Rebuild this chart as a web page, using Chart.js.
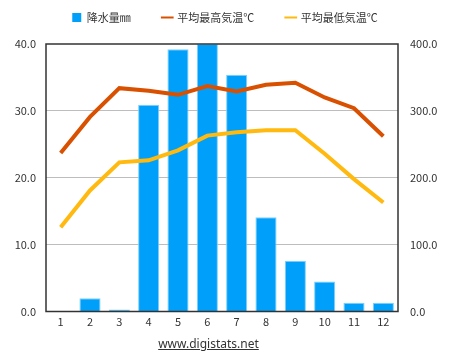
<!DOCTYPE html>
<html>
<head>
<meta charset="utf-8">
<script src="https://cdn.jsdelivr.net/npm/chart.js@4.4.1/dist/chart.umd.min.js"></script>
<style>
    html, body { margin: 0; padding: 0; background: #fff; }
    #wrap { position: relative; width: 450px; height: 363px; }
    #link {
        position: absolute; left: 0; width: 417px; top: 335px;
        text-align: center; font: 12px 'Noto Sans', sans-serif; color: #333;
        text-decoration: underline;
    }
</style>
</head>
<body>
<div id="wrap">
    <canvas id="chart" width="450" height="363"></canvas>
    <div id="link">www.digistats.net</div>
</div>
<script>
// data
const months = ['1', '2', '3', '4', '5', '6', '7', '8', '9', '10', '11', '12'];
const precipitation = [0, 20, 3, 309, 392, 400, 354, 141, 76, 45, 13, 13];
const maxTemp = [23.7, 29.1, 33.4, 33.0, 32.4, 33.7, 32.9, 33.9, 34.2, 32.0, 30.4, 26.2];
const minTemp = [12.6, 18.1, 22.3, 22.6, 24.1, 26.3, 26.8, 27.1, 27.1, 23.6, 19.8, 16.3];

const seriesNames = ['降水量㎜', '平均最高気温℃', '平均最低気温℃'];
const tempTicks = [0, 10, 20, 30, 40];
const rainTicks = [0, 100, 200, 300, 400];

const FONT = "'Noto Sans CJK JP', 'Noto Sans', sans-serif";

// frame around the plot area
const frame = {
    id: 'frame',
    afterDraw(chart) {
        const { ctx, chartArea: a } = chart;
        ctx.save();
        ctx.strokeStyle = '#333';
        ctx.lineWidth = 1.5;
        ctx.strokeRect(a.left, a.top, a.right - a.left, a.bottom - a.top);
        ctx.restore();
    }
};

// give the legend a bit more room below it
const legendRoom = {
    id: 'legendRoom',
    beforeInit(chart) {
        const fit = chart.legend.fit;
        chart.legend.fit = function () {
            fit.call(this);
            this.height = 64;
        };
    }
};

new Chart(document.getElementById('chart'), {
    data: {
        labels: months,
        datasets: [
            {
                type: 'bar',
                label: seriesNames[0],
                data: precipitation,
                yAxisID: 'yRain',
                backgroundColor: '#00a0fa',
                borderColor: '#80cfff',
                borderWidth: 1,
                categoryPercentage: 1,
                barPercentage: 0.72,
                pointStyle: 'rect',
                order: 3
            },
            {
                type: 'line',
                label: seriesNames[1],
                data: maxTemp,
                yAxisID: 'yTemp',
                borderColor: '#d85000',
                backgroundColor: '#d85000',
                borderWidth: 4,
                pointRadius: 0,
                tension: 0,
                pointStyle: 'line',
                order: 1
            },
            {
                type: 'line',
                label: seriesNames[2],
                data: minTemp,
                yAxisID: 'yTemp',
                borderColor: '#ffb90f',
                backgroundColor: '#ffb90f',
                borderWidth: 4,
                pointRadius: 0,
                tension: 0,
                pointStyle: 'line',
                order: 2
            }
        ]
    },
    options: {
        responsive: false,
        animation: false,
        layout: { padding: { top: -20, left: 0, right: 0, bottom: 0 } },
        plugins: {
            tooltip: { enabled: false },
            legend: {
                position: 'top',
                labels: {
                    usePointStyle: true,
                    boxWidth: 9,
                    boxHeight: 9,
                    padding: 32,
                    color: '#333',
                    font: { family: FONT, size: 11 },
                    sort: (a, b) => a.datasetIndex - b.datasetIndex,
                    generateLabels(chart) {
                        const items = Chart.defaults.plugins.legend.labels.generateLabels(chart);
                        items.forEach(it => {
                            it.lineWidth = it.pointStyle === 'line' ? 2 : 0;
                        });
                        return items;
                    }
                }
            }
        },
        scales: {
            x: {
                grid: { display: false, drawTicks: false },
                border: { display: false },
                ticks: { color: '#333', padding: 4, font: { family: FONT, size: 11 } },
                afterFit(scale) { scale.height = 51.5; }
            },
            yTemp: {
                position: 'left',
                min: tempTicks[0],
                max: tempTicks[tempTicks.length - 1],
                afterBuildTicks(scale) { scale.ticks = tempTicks.map(v => ({ value: v })); },
                grid: {
                    drawTicks: false,
                    lineWidth: 1,
                    color: ctx => (ctx.tick && (ctx.tick.value === 0 || ctx.tick.value === 40)) ? 'rgba(0,0,0,0)' : '#bdbdbd'
                },
                border: { display: false },
                ticks: {
                    color: '#333',
                    padding: 10,
                    font: { family: FONT, size: 11 },
                    callback: v => Number(v).toFixed(1)
                },
                afterFit(scale) { scale.width = 46; }
            },
            yRain: {
                position: 'right',
                min: rainTicks[0],
                max: rainTicks[rainTicks.length - 1],
                afterBuildTicks(scale) { scale.ticks = rainTicks.map(v => ({ value: v })); },
                grid: { display: false, drawTicks: false },
                border: { display: false },
                ticks: {
                    color: '#333',
                    padding: 12,
                    font: { family: FONT, size: 11 },
                    callback: v => Number(v).toFixed(1)
                },
                afterFit(scale) { scale.width = 52; }
            }
        }
    },
    plugins: [frame, legendRoom]
});
</script>
</body>
</html>
